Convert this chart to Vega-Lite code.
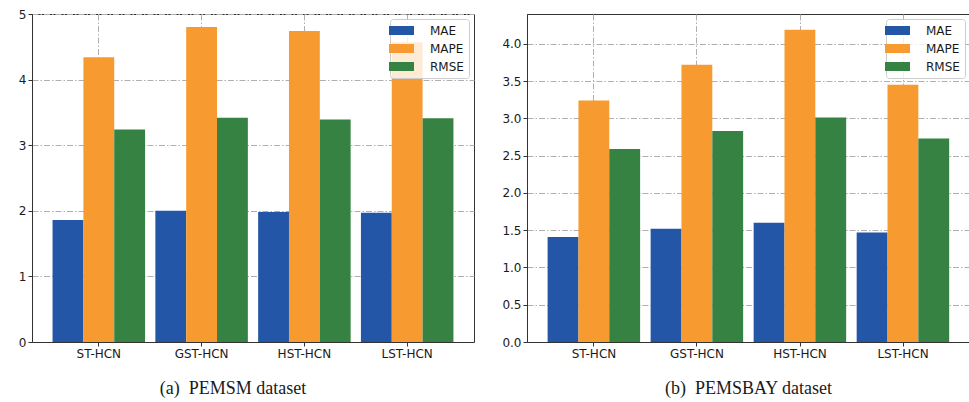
{
  "$schema": "https://vega.github.io/schema/vega-lite/v6.json",
  "padding": {"left": 6, "top": 7, "right": 0, "bottom": 0},
  "background": "white",
  "spacing": 26,
  "datasets": {
    "pemsm": [
      {"model": "ST-HCN", "metric": "MAE", "value": 1.86},
      {"model": "ST-HCN", "metric": "MAPE", "value": 4.34},
      {"model": "ST-HCN", "metric": "RMSE", "value": 3.24},
      {"model": "GST-HCN", "metric": "MAE", "value": 2.00},
      {"model": "GST-HCN", "metric": "MAPE", "value": 4.80},
      {"model": "GST-HCN", "metric": "RMSE", "value": 3.42},
      {"model": "HST-HCN", "metric": "MAE", "value": 1.98},
      {"model": "HST-HCN", "metric": "MAPE", "value": 4.74},
      {"model": "HST-HCN", "metric": "RMSE", "value": 3.39},
      {"model": "LST-HCN", "metric": "MAE", "value": 1.97},
      {"model": "LST-HCN", "metric": "MAPE", "value": 4.57},
      {"model": "LST-HCN", "metric": "RMSE", "value": 3.41}
    ],
    "pemsbay": [
      {"model": "ST-HCN", "metric": "MAE", "value": 1.41},
      {"model": "ST-HCN", "metric": "MAPE", "value": 3.24},
      {"model": "ST-HCN", "metric": "RMSE", "value": 2.59},
      {"model": "GST-HCN", "metric": "MAE", "value": 1.52},
      {"model": "GST-HCN", "metric": "MAPE", "value": 3.72},
      {"model": "GST-HCN", "metric": "RMSE", "value": 2.83},
      {"model": "HST-HCN", "metric": "MAE", "value": 1.60},
      {"model": "HST-HCN", "metric": "MAPE", "value": 4.19},
      {"model": "HST-HCN", "metric": "RMSE", "value": 3.01},
      {"model": "LST-HCN", "metric": "MAE", "value": 1.47},
      {"model": "LST-HCN", "metric": "MAPE", "value": 3.45},
      {"model": "LST-HCN", "metric": "RMSE", "value": 2.73}
    ]
  },
  "config": {
    "view": {"stroke": "#333333", "strokeWidth": 1},
    "axis": {
      "labelFont": "DejaVu Sans",
      "labelFontSize": 12,
      "labelColor": "#1a1a1a",
      "domainColor": "#333333",
      "tickColor": "#333333",
      "tickSize": 4,
      "labelPadding": 2,
      "gridColor": "#b0b0b0",
      "gridDash": [6, 2, 1.5, 2],
      "gridWidth": 1,
      "title": null
    },
    "legend": {
      "labelFont": "DejaVu Sans",
      "labelFontSize": 12,
      "labelColor": "#1a1a1a",
      "strokeColor": "#cccccc",
      "fillColor": "rgba(255,255,255,0.8)",
      "cornerRadius": 3,
      "padding": 5,
      "offset": 5,
      "rowPadding": 5,
      "labelOffset": 22,
      "symbolType": "M-2,-0.72H2V0.72H-2Z",
      "symbolSize": 156,
      "symbolStrokeWidth": 0,
      "title": null
    },
    "title": {
      "font": "Liberation Serif",
      "fontSize": 18,
      "fontWeight": "normal",
      "color": "#1a1a1a",
      "orient": "bottom",
      "anchor": "middle",
      "offset": 20
    }
  },
  "hconcat": [
    {
      "data": {"name": "pemsm"},
      "width": 442,
      "height": 328,
      "title": {"text": "(a)\u00a0 PEMSM dataset", "dx": -20},
      "mark": {"type": "bar"},
      "encoding": {
        "x": {
          "field": "model", "type": "nominal", "sort": ["ST-HCN", "GST-HCN", "HST-HCN", "LST-HCN"],
          "scale": {"paddingInner": 0.1, "paddingOuter": 0.2},
          "axis": {"labelAngle": 0, "grid": true, "bandPosition": 0.5, "minExtent": 18, "maxExtent": 18}
        },
        "xOffset": {
          "field": "metric", "type": "nominal", "sort": ["MAE", "MAPE", "RMSE"],
          "scale": {"paddingInner": 0, "paddingOuter": 0}
        },
        "y": {
          "field": "value", "type": "quantitative",
          "scale": {"domain": [0, 5], "nice": false, "zero": true},
          "axis": {"values": [0, 1, 2, 3, 4, 5], "format": "d", "minExtent": 25, "maxExtent": 25}
        },
        "color": {
          "field": "metric", "type": "nominal",
          "scale": {"domain": ["MAE", "MAPE", "RMSE"], "range": ["#2356a6", "#f79b31", "#358243"]},
          "legend": {"orient": "top-right"}
        }
      }
    },
    {
      "data": {"name": "pemsbay"},
      "width": 443,
      "height": 328,
      "title": {"text": "(b)\u00a0 PEMSBAY dataset"},
      "mark": {"type": "bar"},
      "encoding": {
        "x": {
          "field": "model", "type": "nominal", "sort": ["ST-HCN", "GST-HCN", "HST-HCN", "LST-HCN"],
          "scale": {"paddingInner": 0.1, "paddingOuter": 0.2},
          "axis": {"labelAngle": 0, "grid": true, "bandPosition": 0.5, "minExtent": 18, "maxExtent": 18}
        },
        "xOffset": {
          "field": "metric", "type": "nominal", "sort": ["MAE", "MAPE", "RMSE"],
          "scale": {"paddingInner": 0, "paddingOuter": 0}
        },
        "y": {
          "field": "value", "type": "quantitative",
          "scale": {"domain": [0, 4.4], "nice": false, "zero": true},
          "axis": {"values": [0, 0.5, 1, 1.5, 2, 2.5, 3, 3.5, 4], "format": ".1f", "minExtent": 25, "maxExtent": 25}
        },
        "color": {
          "field": "metric", "type": "nominal",
          "scale": {"domain": ["MAE", "MAPE", "RMSE"], "range": ["#2356a6", "#f79b31", "#358243"]},
          "legend": {"orient": "top-right"}
        }
      }
    }
  ],
  "resolve": {
    "scale": {"y": "independent", "x": "independent", "color": "independent"},
    "legend": {"color": "independent"}
  }
}
